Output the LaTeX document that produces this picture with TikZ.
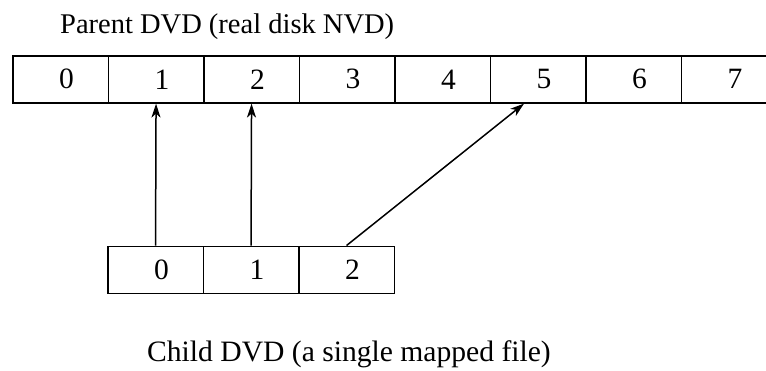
\documentclass[tikz,border=0pt]{standalone}
\usepackage{fontspec}
\setmainfont{Liberation Serif}
\usetikzlibrary{arrows.meta,calc}
\begin{document}
\begin{tikzpicture}[x=1pt,y=-1pt,
  cell/.style={draw,line width=1.6pt,minimum width=95.5pt,minimum height=47pt,inner sep=0pt,anchor=north west,font=\fontsize{29.5}{30}\selectfont},
  lbl/.style={anchor=base west,inner sep=0pt},
  conn/.style={line width=1.5pt,-{Stealth[length=14pt,width=9pt,inset=4pt]}}]
\useasboundingbox (0,0) rectangle (766,370);
\clip (0,0) rectangle (766,370);
\node[lbl,font=\fontsize{28.5}{30}\selectfont] (ptitle) at (60,33) {Parent DVD (real disk NVD)};
\node[lbl,font=\fontsize{29.6}{30}\selectfont] (ctitle) at (147,361) {Child DVD (a single mapped file)};
\foreach \i in {0,...,7}{
  \node[cell] (t\i) at ({12+95.5*\i},55) {\hspace*{12pt}\i};
}
\foreach \i in {0,1,2}{
  \node[cell] (b\i) at ({107+95.5*\i},245.5) {\hspace*{12pt}\i};
}
\draw[conn] (b0.north) -- (t1.south);
\draw[conn] (b1.north) -- (t2.south);
\draw[conn] (b2.north) -- ($(t5.south)+(-14,0)$);
\end{tikzpicture}
\end{document}
